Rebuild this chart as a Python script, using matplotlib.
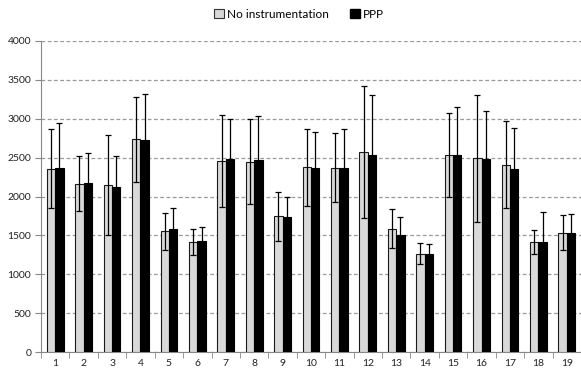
import matplotlib
matplotlib.use("Agg")
import matplotlib.pyplot as plt
import numpy as np
from matplotlib.patches import Patch

plt.rcParams['font.family'] = ['Lato', 'DejaVu Sans']

categories = [str(i) for i in range(1, 20)]
no_instr = [2357, 2164, 2151, 2734, 1551, 1413, 2460, 2447, 1746, 2377,
            2372, 2574, 1588, 1266, 2535, 2492, 2407, 1416, 1536]
no_instr_err = [505, 352, 643, 545, 240, 165, 590, 545, 318, 494,
                448, 853, 246, 137, 545, 815, 560, 154, 220]
ppp = [2361, 2168, 2125, 2721, 1576, 1422, 2481, 2464, 1742, 2372,
       2372, 2531, 1506, 1266, 2531, 2488, 2351, 1412, 1536]
ppp_err = [588, 395, 395, 596, 270, 180, 520, 565, 258, 455,
           493, 772, 227, 120, 617, 609, 536, 394, 236]
yticks = [0, 500, 1000, 1500, 2000, 2500, 3000, 3500, 4000]
series_labels = ["No instrumentation", "PPP"]

fig = plt.figure(figsize=(5.81, 3.72), dpi=100)
ax = fig.add_axes([41/581, 1-352/372, 540/581, (352-41)/372])

x = np.arange(1, len(categories) + 1)
w = 0.295
ekw = dict(ecolor='black', elinewidth=0.9, capsize=2.3, capthick=0.9)
ax.bar(x - w/2, no_instr, w, color='#d9d9d9', edgecolor='#1a1a1a', linewidth=0.8,
       yerr=no_instr_err, error_kw=ekw, zorder=3)
ax.bar(x + w/2, ppp, w, color='black', edgecolor='black', linewidth=0.8,
       yerr=ppp_err, error_kw=ekw, zorder=3)

ax.set_xlim(0.5, len(categories) + 0.5)
ax.set_ylim(0, 4000)
ax.set_yticks(yticks)
ax.set_yticklabels([str(v) for v in yticks], fontsize=7.5, color='#222222')
ax.set_xticks(x)
ax.set_xticklabels(categories, fontsize=7.5, color='#222222')
ax.set_xticks(np.arange(0.5, len(categories) + 1, 1), minor=True)
ax.tick_params(axis='x', which='major', length=0, pad=5)
ax.tick_params(axis='x', which='minor', length=4, color='#888888', direction='out')
ax.tick_params(axis='y', length=4, color='#888888', pad=3)

ax.yaxis.grid(True, linestyle=(0, (3, 2)), color='#999999', linewidth=0.9, zorder=0)
ax.set_axisbelow(True)
for s in ['top', 'right']:
    ax.spines[s].set_visible(False)
ax.spines['left'].set_color('#888888')
ax.spines['bottom'].set_color('#888888')

handles = [Patch(facecolor='#d9d9d9', edgecolor='#333333', linewidth=0.8),
           Patch(facecolor='black', edgecolor='black')]
fig.legend(handles, series_labels, loc='upper center', bbox_to_anchor=(0.515, 1.005),
           ncol=2, frameon=False, fontsize=8.5, handlelength=0.8, handleheight=0.8,
           handletextpad=0.3, columnspacing=1.8)

fig.savefig('out.png', dpi=100)
